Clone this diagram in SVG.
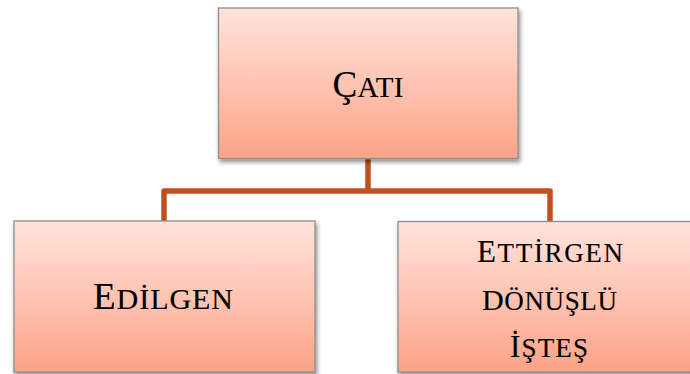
<svg xmlns="http://www.w3.org/2000/svg" width="690" height="374" viewBox="0 0 690 374">
<defs>
<linearGradient id="g" x1="0" y1="0" x2="0" y2="1">
<stop offset="0" stop-color="#FFE3DB"/>
<stop offset="0.5" stop-color="#FFC4B2"/>
<stop offset="1" stop-color="#FCA386"/>
</linearGradient>
<filter id="sh" x="-10%" y="-10%" width="125%" height="130%">
<feDropShadow dx="1.5" dy="3" stdDeviation="2" flood-color="#000" flood-opacity="0.45"/>
</filter>
</defs>
<style>
.box{fill:url(#g);stroke:#8E8E8E;stroke-width:1.3;filter:url(#sh)}
.t{font-family:"Liberation Serif","Times New Roman",serif;fill:#000;stroke:#000;stroke-width:0.15;text-anchor:middle}
.c{fill:none;stroke:#C0501E;stroke-width:5.5;stroke-linejoin:round}
</style>
<g id="connectors">
<path class="c" d="M368 158 V191"/>
<path class="c" d="M164 221 V191 H550 V221"/>
</g>
<g id="node-cati">
<rect class="box" x="218.5" y="8" width="299.5" height="150.5"/>
<text class="t" x="368" y="97" textLength="71" lengthAdjust="spacing"><tspan font-size="37">Ç</tspan><tspan font-size="29">ATI</tspan></text>
</g>
<g id="node-edilgen">
<rect class="box" x="14" y="221" width="301" height="151"/>
<text class="t" x="163" y="309" textLength="140" lengthAdjust="spacing"><tspan font-size="37">E</tspan><tspan font-size="30">DİLGEN</tspan></text>
</g>
<g id="node-ettirgen">
<rect class="box" x="398" y="221.5" width="300" height="150.5"/>
<text class="t" x="550" y="262" textLength="146" lengthAdjust="spacing"><tspan font-size="31">E</tspan><tspan font-size="27">TTİRGEN</tspan></text>
<text class="t" x="549.5" y="310" textLength="135" lengthAdjust="spacing"><tspan font-size="30">D</tspan><tspan font-size="27">ÖNÜŞLÜ</tspan></text>
<text class="t" x="549" y="357" textLength="78" lengthAdjust="spacing"><tspan font-size="31">İ</tspan><tspan font-size="27">ŞTEŞ</tspan></text>
</g>
</svg>
